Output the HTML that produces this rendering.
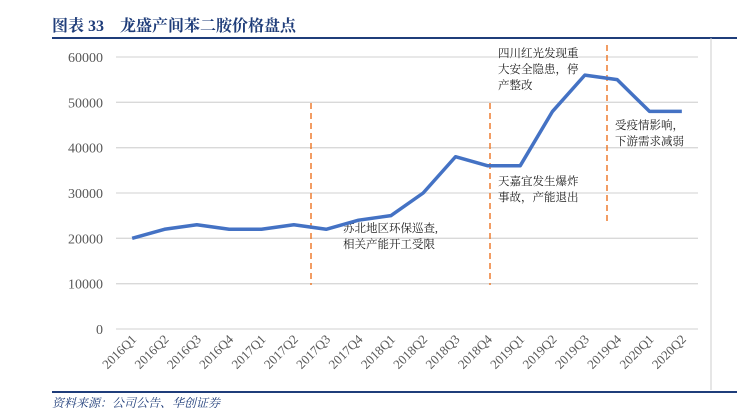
<!DOCTYPE html>
<html><head><meta charset="utf-8"><style>
body{margin:0;background:#fff;width:737px;height:411px;overflow:hidden;font-family:"Liberation Serif","Noto Serif CJK SC",serif}
</style></head><body>
<svg width="737" height="411" id="c">
<text x="52" y="31" font-size="16" font-weight="bold" fill="#1f3d7a" font-family="Liberation Serif, Noto Serif CJK SC, serif">图表 33　龙盛产间苯二胺价格盘点</text>
<line x1="52" y1="38" x2="737" y2="38" stroke="#1f3d7a" stroke-width="2"/>
<line x1="711" y1="38" x2="711" y2="390" stroke="#ccc" stroke-width="1"/>
<line x1="52" y1="392" x2="737" y2="392" stroke="#1f3d7a" stroke-width="2"/>
<text x="52" y="407" font-size="12" font-style="italic" fill="#1f3d7a">资料来源：公司公告、华创证券</text>
<g id="grid"></g><g id="ann"></g><g id="series"></g><g id="xl"></g>
</svg>
<script>
const categories=["2016Q1","2016Q2","2016Q3","2016Q4","2017Q1","2017Q2","2017Q3","2017Q4","2018Q1","2018Q2","2018Q3","2018Q4","2019Q1","2019Q2","2019Q3","2019Q4","2020Q1","2020Q2"];
const prices=[20000,22000,23000,22000,22000,23000,22000,24000,25000,30000,38000,36000,36000,48000,56000,55000,48000,48000];
const yTicks=[0,10000,20000,30000,40000,50000,60000];
const ns="http://www.w3.org/2000/svg";
const X0=116,X1=698,Y0=329,Y1=57,YMAX=60000;
const bw=(X1-X0)/categories.length;
function x(i){return X0+bw*(i+0.5);}
function y(v){return Y0-(v/YMAX)*(Y0-Y1);}
function mk(t,a,p){const e=document.createElementNS(ns,t);for(const k in a)e.setAttribute(k,a[k]);p.appendChild(e);return e;}
const grid=document.getElementById('grid');
yTicks.forEach(v=>{
 const l=mk('line',{x1:X0,x2:X1,y1:y(v),y2:y(v),stroke:'#d9d9d9','stroke-width':1.3},grid);
 
 
 const t=mk('text',{x:103,y:y(v)+5,'text-anchor':'end','font-size':14,fill:'#595959'},grid);
 t.textContent=v;
 
 
});
const ann=document.getElementById('ann');
[[311,103,285],[490,103,285],[607,45,225]].forEach(d=>{
 const l=mk('line',{x1:d[0],x2:d[0],y1:d[1],y2:d[2],stroke:'#ed7d31','stroke-width':1.5,'stroke-dasharray':'6,4'},ann);
 
 
});
const notes=[[343,232,["苏北地区环保巡查,","相关产能开工受限"]],[498,185,["天嘉宜发生爆炸","事故，产能退出"]],[498,57,["四川红光发现重","大安全隐患，停","产整改"]],[615,129,["受疫情影响，","下游需求减弱"]]];
notes.forEach(n=>{n[2].forEach((s,i)=>{
 const t=mk('text',{x:n[0],y:n[1]+i*16,'font-size':11.5,fill:'#222'},ann);
 t.textContent=s;
 
 
});});
const ser=document.getElementById('series');
const pl=mk('polyline',{points:prices.map((v,i)=>x(i)+','+y(v)).join(' '),fill:'none',stroke:'#4472c4','stroke-width':3.5,'stroke-linejoin':'round'},ser);


const xl=document.getElementById('xl');
categories.forEach((c,i)=>{
 const t=mk('text',{x:x(i)+5,y:340,'text-anchor':'end','font-size':13,fill:'#595959',transform:`rotate(-45 ${x(i)+5} 340)`},xl);
 t.textContent=c;
 
 
});
</script>
</body></html>
